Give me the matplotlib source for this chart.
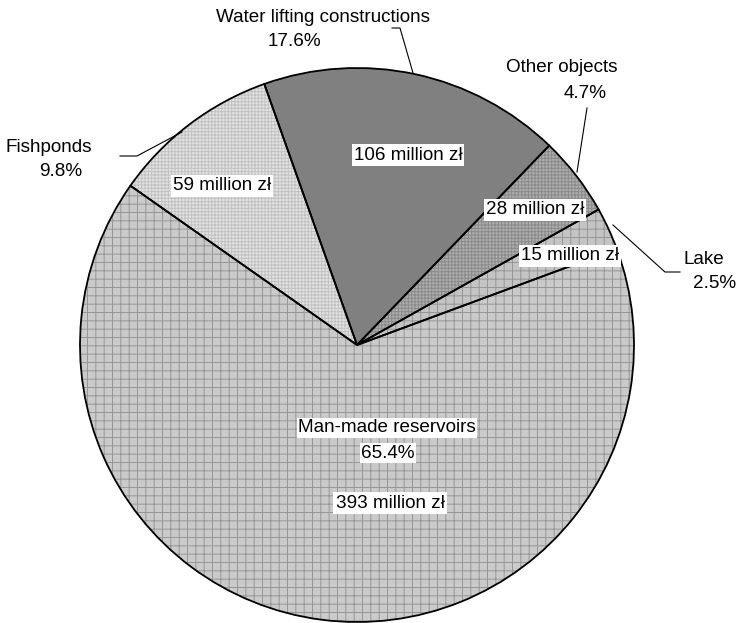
"""
Pie chart: value of water-management objects, shares and amounts in million zł.
"""

import matplotlib
matplotlib.use("Agg")
import matplotlib.pyplot as plt
from matplotlib.patches import Wedge

# data (order as drawn clockwise from the Lake/Man-made boundary)
categories = ["Man-made reservoirs", "Fishponds", "Water lifting constructions",
              "Other objects", "Lake"]
values_mln = [393, 59, 106, 28, 15]
shares = [65.4, 9.8, 17.6, 4.7, 2.5]

# styling
face_colors = ["#cacaca", "#e2e2e2", "#808080", "#adadad", "#c4c4c4"]
hatch_colors = ["#969696", "#c2c2c2", "#808080", "#8a8a8a", "#969696"]
hatches = ["++", "+++++", "", "+++++", "++"]

W, H = 741, 623
CX, CY, R = 357, 345, 277
START = 20.3

plt.rcParams["font.family"] = ["Liberation Sans", "DejaVu Sans"]
plt.rcParams["hatch.linewidth"] = 0.7
FS = 13.6


def Y(y):
    # pixel row -> data y
    return H - y


fig = plt.figure(figsize=(W / 100, H / 100), dpi=100)
ax = fig.add_axes([0, 0, 1, 1])

wedges, _ = ax.pie(values_mln, colors=face_colors, startangle=START,
                   counterclock=False, radius=R, center=(CX, Y(CY)),
                   wedgeprops=dict(linewidth=0, edgecolor="none"))

for w, hc, h in zip(wedges, hatch_colors, hatches):
    if h:
        ax.add_patch(Wedge(w.center, w.r, w.theta1, w.theta2, fill=False,
                           hatch=h, edgecolor=hc, linewidth=0, zorder=2))
    ax.add_patch(Wedge(w.center, w.r, w.theta1, w.theta2, fill=False,
                       edgecolor="black", linewidth=1.3, zorder=3))

ax.set_xlim(0, W)
ax.set_ylim(0, H)
ax.set_aspect("equal")
ax.axis("off")

# label positions in pixel coords
name_pos = [(387, 428), (49, 147), (323, 18), (562, 68), (704, 260)]
share_pos = [(388, 453), (61, 171), (294, 42), (585, 93), (715, 283)]
amount_pos = [(390, 503), (222, 186), (408, 155), (535, 210), (570, 256)]

for i, cat in enumerate(categories):
    inside = i == 0
    box = dict(facecolor="white", edgecolor="none", pad=1) if inside else None
    ax.text(name_pos[i][0], Y(name_pos[i][1]), cat, ha="center", va="center",
            fontsize=FS, bbox=box, zorder=5)
    ax.text(share_pos[i][0], Y(share_pos[i][1]), f"{shares[i]:.1f}%",
            ha="center", va="center", fontsize=FS, bbox=box, zorder=5)
    ax.text(amount_pos[i][0], Y(amount_pos[i][1]), f"{values_mln[i]} million zł",
            ha="center", va="center", fontsize=FS, zorder=5,
            bbox=dict(facecolor="white", edgecolor="none", pad=1.5))

# leader lines
leaders = [
    [(120, 156), (137, 156), (182, 132)],
    [(392, 28), (400, 28), (413, 73)],
    [(587, 108), (577, 172)],
    [(680, 272), (665, 272), (613, 225)],
]
for pts in leaders:
    xs = [p[0] for p in pts]
    ys = [Y(p[1]) for p in pts]
    ax.plot(xs, ys, color="black", linewidth=0.8, zorder=4)

fig.savefig("out.png", dpi=100)
